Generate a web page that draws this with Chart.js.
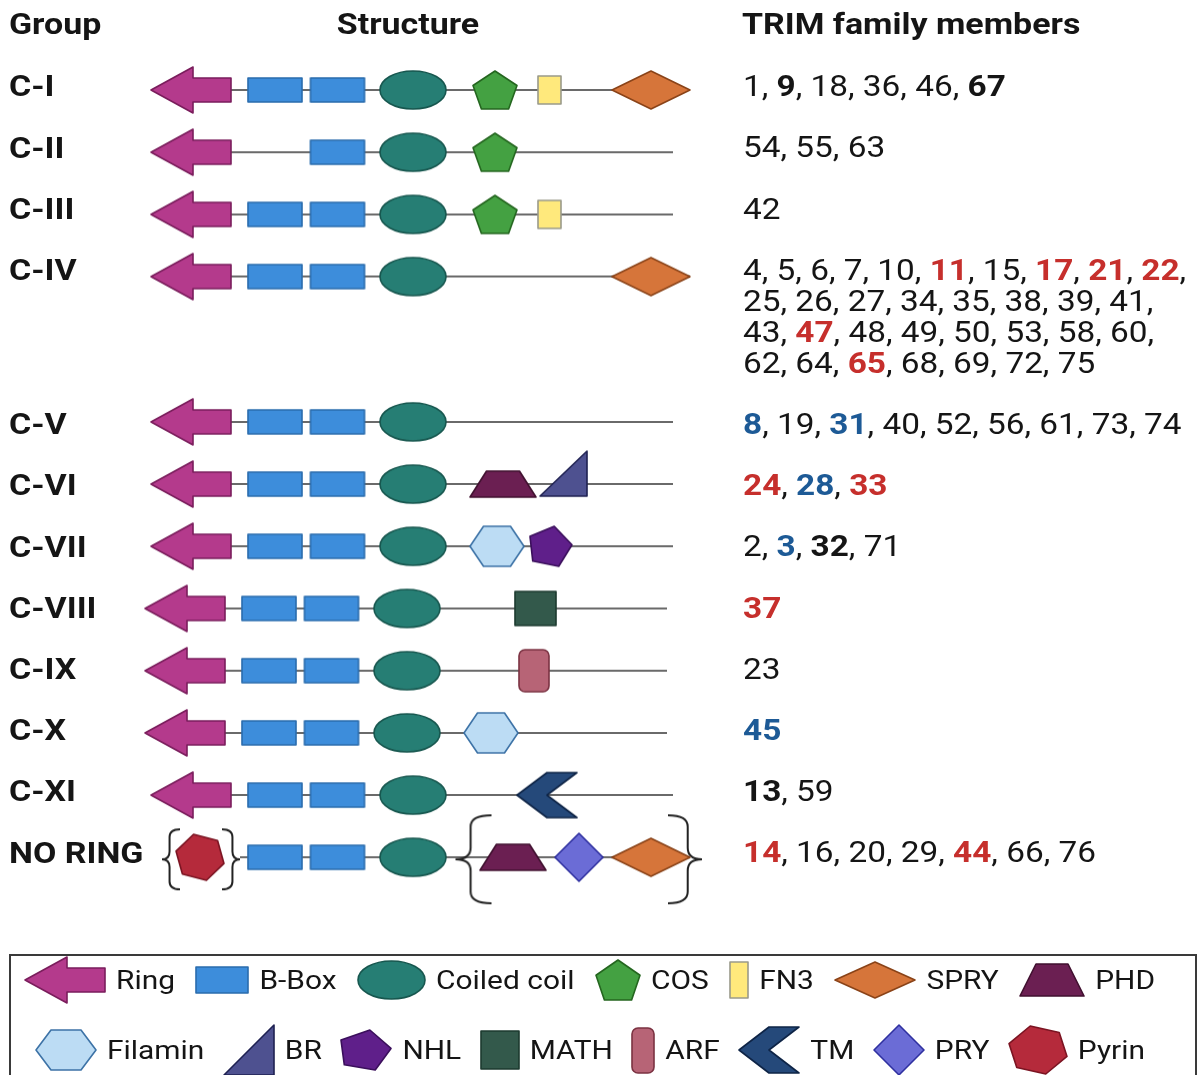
<!DOCTYPE html>
<html>
<head>
<meta charset="utf-8">
<script src="https://cdn.jsdelivr.net/npm/chart.js@4.4.1/dist/chart.umd.min.js"></script>
<style>
  html, body { margin: 0; padding: 0; background: #fff; }
  canvas { display: block; }
</style>
</head>
<body>
<canvas id="trim" width="1199" height="1075"></canvas>
<script>
// ---- data ----
const groups = ['C-I', 'C-II', 'C-III', 'C-IV', 'C-V', 'C-VI', 'C-VII', 'C-VIII', 'C-IX', 'C-X', 'C-XI', 'NO RING'];
const structures = [
  ['Ring', 'B-Box', 'B-Box', 'Coiled coil', 'COS', 'FN3', 'SPRY'],
  ['Ring', 'B-Box', 'Coiled coil', 'COS'],
  ['Ring', 'B-Box', 'B-Box', 'Coiled coil', 'COS', 'FN3'],
  ['Ring', 'B-Box', 'B-Box', 'Coiled coil', 'SPRY'],
  ['Ring', 'B-Box', 'B-Box', 'Coiled coil'],
  ['Ring', 'B-Box', 'B-Box', 'Coiled coil', 'PHD', 'BR'],
  ['Ring', 'B-Box', 'B-Box', 'Coiled coil', 'Filamin', 'NHL'],
  ['Ring', 'B-Box', 'B-Box', 'Coiled coil', 'MATH'],
  ['Ring', 'B-Box', 'B-Box', 'Coiled coil', 'ARF'],
  ['Ring', 'B-Box', 'B-Box', 'Coiled coil', 'Filamin'],
  ['Ring', 'B-Box', 'B-Box', 'Coiled coil', 'TM'],
  ['Pyrin', 'B-Box', 'B-Box', 'Coiled coil', 'PHD', 'PRY', 'SPRY']
];
const members = [
  [1, 9, 18, 36, 46, 67],
  [54, 55, 63],
  [42],
  [4, 5, 6, 7, 10, 11, 15, 17, 21, 22, 25, 26, 27, 34, 35, 38, 39, 41, 43, 47, 48, 49, 50, 53, 58, 60, 62, 64, 65, 68, 69, 72, 75],
  [8, 19, 31, 40, 52, 56, 61, 73, 74],
  [24, 28, 33],
  [2, 3, 32, 71],
  [37],
  [23],
  [45],
  [13, 59],
  [14, 16, 20, 29, 44, 66, 76]
];
const redMembers = [11, 17, 21, 22, 47, 65, 24, 33, 37, 14, 44];
const blueMembers = [8, 31, 28, 3, 45];
const boldMembers = [9, 67, 32, 13];
const legendRows = [
  ['Ring', 'B-Box', 'Coiled coil', 'COS', 'FN3', 'SPRY', 'PHD'],
  ['Filamin', 'BR', 'NHL', 'MATH', 'ARF', 'TM', 'PRY', 'Pyrin']
];

// ---- look ----
const SX = 1.15;
const FONT = 'Roboto, "Liberation Sans", Arial, sans-serif';
const RED = '#c62f2c', BLUE = '#1d5a96', INK = '#151515';

const domainStyle = {
  'Ring':        { fill: '#b43a8c', stroke: '#7a1d5c' },
  'B-Box':       { fill: '#3d8ddb', stroke: '#2a6cad' },
  'Coiled coil': { fill: '#267e74', stroke: '#17574f' },
  'COS':         { fill: '#44a142', stroke: '#24661f' },
  'FN3':         { fill: '#ffe97c', stroke: '#9a9a8a' },
  'SPRY':        { fill: '#d6753a', stroke: '#8a4318' },
  'PHD':         { fill: '#6b1f52', stroke: '#40102f' },
  'BR':          { fill: '#4e5190', stroke: '#1f2152' },
  'Filamin':     { fill: '#bcdcf4', stroke: '#3c72a6' },
  'NHL':         { fill: '#5f1f8a', stroke: '#3b0f5c' },
  'MATH':        { fill: '#33594b', stroke: '#1c3a2f' },
  'ARF':         { fill: '#b76476', stroke: '#7b3242' },
  'TM':          { fill: '#25497a', stroke: '#0e2446' },
  'PRY':         { fill: '#6b6cd6', stroke: '#2f30a0' },
  'Pyrin':       { fill: '#b52a3b', stroke: '#7b1422' }
};
// [w, h, dy]
const domainSize = {
  'Ring': [80, 46, 0], 'B-Box': [54, 24, 0], 'Coiled coil': [66, 38, 0], 'COS': [44, 38, 0],
  'FN3': [23, 28, 0], 'SPRY': [78, 38, 0], 'PHD': [66, 26, 0], 'BR': [47, 45, -10.5],
  'Filamin': [54, 40, 0], 'NHL': [42, 40, 0], 'MATH': [41, 34, 0], 'ARF': [30, 42, 0],
  'TM': [60, 45, 0], 'PRY': [48, 48, 0], 'Pyrin': [48, 46, 0]
};
const legendSize = {
  'Ring': [80, 46], 'B-Box': [52, 26], 'Coiled coil': [67, 38], 'COS': [44, 40], 'FN3': [18, 36],
  'SPRY': [80, 36], 'PHD': [64, 32], 'Filamin': [60, 40], 'BR': [50, 50], 'NHL': [50, 40],
  'MATH': [38, 38], 'ARF': [22, 45], 'TM': [60, 46], 'PRY': [50, 50], 'Pyrin': [58, 48]
};
const domainX = {
  'Ring': 191, 'Pyrin': 200, 'Coiled coil': 413, 'COS': 495, 'FN3': 549.5, 'SPRY': 651,
  'PHD': 503, 'BR': 563.5, 'Filamin': 497, 'NHL': 551, 'MATH': 541.5, 'ARF': 540, 'TM': 547, 'PRY': 579
};
const bboxX = [275, 337.5];
const rowShift = { 7: -6, 8: -6, 9: -6 };
const xOverride = { 11: { 'PHD': 513 } };
const braces = [
  { row: 11, side: 'L', x: 171, w: 18, h: 60 },
  { row: 11, side: 'R', x: 231, w: 18, h: 60 },
  { row: 11, side: 'L', x: 473.5, w: 36, h: 88 },
  { row: 11, side: 'R', x: 685, w: 34, h: 88 }
];
const TEXT_DY = 3;

// ---- shapes ----
function regular(n, startDeg) {
  const a = [];
  for (let k = 0; k < n; k++) {
    const t = (startDeg + k * 360 / n) * Math.PI / 180;
    a.push([Math.cos(t), Math.sin(t)]);
  }
  return a;
}
function polyFit(pts, w, h) {
  const xs = pts.map(p => p[0]), ys = pts.map(p => p[1]);
  const x0 = Math.min(...xs), x1 = Math.max(...xs), y0 = Math.min(...ys), y1 = Math.max(...ys);
  return pts.map(p => [(p[0] - x0) / (x1 - x0) * w - w / 2, (p[1] - y0) / (y1 - y0) * h - h / 2]);
}
function shapePath(g, name, w, h) {
  const hw = w / 2, hh = h / 2;
  let pts;
  g.beginPath();
  switch (name) {
    case 'Ring': {
      const hx = -hw + w * 0.525, bh = h * 0.26;
      pts = [[-hw, 0], [hx, -hh], [hx, -bh], [hw, -bh], [hw, bh], [hx, bh], [hx, hh]];
      break;
    }
    case 'B-Box': case 'FN3': case 'MATH':
      g.rect(-hw, -hh, w, h); return;
    case 'ARF':
      g.roundRect(-hw, -hh, w, h, 6); return;
    case 'Coiled coil':
      g.ellipse(0, 0, hw, hh, 0, 0, Math.PI * 2); return;
    case 'COS': pts = polyFit(regular(5, -90), w, h); break;
    case 'NHL': pts = polyFit(regular(5, -78), w, h); break;
    case 'SPRY': case 'PRY': pts = [[-hw, 0], [0, -hh], [hw, 0], [0, hh]]; break;
    case 'PHD': { const t = w * 0.25; pts = [[-hw, hh], [-hw + t, -hh], [hw - t, -hh], [hw, hh]]; break; }
    case 'BR': pts = [[-hw, hh], [hw, -hh], [hw, hh]]; break;
    case 'Filamin': pts = [[-hw, 0], [-hw / 2, -hh], [hw / 2, -hh], [hw, 0], [hw / 2, hh], [-hw / 2, hh]]; break;
    case 'Pyrin': pts = polyFit(regular(6, 15), w, h); break;
    case 'TM': pts = [[-hw, 0], [0, -hh], [hw, -hh], [0, 0], [hw, hh], [0, hh]]; break;
  }
  g.moveTo(pts[0][0], pts[0][1]);
  for (let i = 1; i < pts.length; i++) g.lineTo(pts[i][0], pts[i][1]);
  g.closePath();
}
function makeIcon(name, w, h, dy) {
  dy = dy || 0;
  const pad = 3;
  const c = document.createElement('canvas');
  c.width = Math.ceil(w + pad * 2);
  c.height = Math.ceil(h + Math.abs(dy) * 2 + pad * 2);
  const g = c.getContext('2d');
  g.translate(c.width / 2, c.height / 2 + dy);
  shapePath(g, name, w, h);
  g.fillStyle = domainStyle[name].fill;
  g.fill();
  g.lineWidth = 1.6;
  g.lineJoin = 'round';
  g.strokeStyle = domainStyle[name].stroke;
  g.stroke();
  return c;
}
function makeBrace(side, w, h) {
  const c = document.createElement('canvas');
  c.width = Math.ceil(w + 6);
  c.height = Math.ceil(h + 6);
  const g = c.getContext('2d');
  g.translate(c.width / 2, c.height / 2);
  if (side === 'R') g.scale(-1, 1);
  const hw = w / 2, hh = h / 2;
  const xm = -hw + w * 0.42, r = Math.min(w * 0.5, h * 0.13);
  g.beginPath();
  g.moveTo(hw, -hh);
  g.quadraticCurveTo(xm, -hh, xm, -hh + r);
  g.lineTo(xm, -r);
  g.quadraticCurveTo(xm, 0, -hw, 0);
  g.quadraticCurveTo(xm, 0, xm, r);
  g.lineTo(xm, hh - r);
  g.quadraticCurveTo(xm, hh, hw, hh);
  g.lineWidth = 2;
  g.strokeStyle = '#222';
  g.stroke();
  return c;
}

// ---- member text wrapping ----
const measure = document.createElement('canvas').getContext('2d');
function memberStyle(n) {
  if (redMembers.includes(n)) return { color: RED, bold: true };
  if (blueMembers.includes(n)) return { color: BLUE, bold: true };
  if (boldMembers.includes(n)) return { color: INK, bold: true };
  return { color: INK, bold: false };
}
const MEMBER_PX = 29;
function memberFont(bold) { return (bold ? 'bold ' : '') + MEMBER_PX + 'px ' + FONT; }
function textW(str, font) { measure.font = font; return measure.measureText(str).width * SX; }

const memberLines = members.map(list => {
  const lines = [[]];
  let used = 0;
  const spaceW = textW(' ', memberFont(false));
  list.forEach((n, k) => {
    const st = memberStyle(n);
    const comma = k < list.length - 1 ? ',' : '';
    const w = textW(String(n), memberFont(st.bold)) + textW(comma, memberFont(false));
    const need = (lines[lines.length - 1].length ? spaceW : 0) + w;
    if (used + need > 452 && lines[lines.length - 1].length) {
      lines.push([]);
      used = w;
    } else {
      used += need;
    }
    lines[lines.length - 1].push({ n, comma, st });
  });
  return lines;
});

// row positions follow the number of member lines
const structY = [], textY = [];
let extra = 0;
groups.forEach((g, i) => {
  structY.push(90 + 62.2 * i + 27.7 * extra);
  textY.push(86 + 61.2 * i + 31 * extra);
  extra += memberLines[i].length - 1;
});

// ---- datasets ----
const domainNames = Object.keys(domainStyle);
const points = {};
domainNames.forEach(d => { points[d] = []; });
const backbone = [];
structures.forEach((doms, i) => {
  const shift = rowShift[i] || 0;
  const y = structY[i];
  const nBox = doms.filter(d => d === 'B-Box').length;
  let boxSeen = 0;
  doms.forEach(d => {
    let x;
    if (d === 'B-Box') { x = bboxX[2 - nBox + boxSeen]; boxSeen++; }
    else x = (xOverride[i] && xOverride[i][d]) || domainX[d];
    points[d].push({ x: x + shift, y });
  });
  const start = doms[0] === 'Ring' ? domainX.Ring + 40 : 240;
  const end = doms[doms.length - 1] === 'SPRY' ? 690 : 673;
  backbone.push({ x: start + shift, y }, { x: end + shift, y }, { x: end + shift, y: null });
});

const icons = {};
domainNames.forEach(d => { const s = domainSize[d]; icons[d] = makeIcon(d, s[0], s[1], s[2]); });
const legendIcons = {};
domainNames.forEach(d => { const s = legendSize[d]; legendIcons[d] = makeIcon(d, s[0], s[1], 0); });
const braceIcons = braces.map(b => makeBrace(b.side, b.w, b.h));

const datasets = domainNames.map(d => ({
  label: d,
  data: points[d],
  pointStyle: icons[d],
  pointRadius: 4,
  order: 1
}));
datasets.push({
  label: 'braces',
  data: braces.map(b => ({ x: b.x, y: structY[b.row] + 2 })),
  pointStyle: braceIcons,
  pointRadius: 4,
  order: 1
});
datasets.push({
  type: 'line',
  label: 'backbone',
  data: backbone,
  showLine: true,
  spanGaps: false,
  borderColor: '#6a6a6a',
  borderWidth: 2,
  pointRadius: 0,
  order: 10
});

// ---- text + legend ----
function stretchText(ctx, text, x, y, font, color, align) {
  ctx.save();
  ctx.font = font;
  ctx.fillStyle = color;
  ctx.textBaseline = 'middle';
  const w = ctx.measureText(text).width * SX;
  const x0 = align === 'center' ? x - w / 2 : x;
  ctx.translate(x0, y);
  ctx.scale(SX, 1);
  ctx.fillText(text, 0, 0);
  ctx.restore();
  return w;
}

const textPlugin = {
  id: 'trimText',
  afterDatasetsDraw(chart) {
    const ctx = chart.ctx;
    const xs = chart.scales.x, ys = chart.scales.y;
    const px = v => xs.getPixelForValue(v), py = v => ys.getPixelForValue(v + TEXT_DY);
    const headFont = 'bold 29.5px ' + FONT;

    stretchText(ctx, 'Group', px(9), py(24), headFont, INK);
    stretchText(ctx, 'Structure', px(408), py(24), headFont, INK, 'center');
    stretchText(ctx, 'TRIM family members', px(742), py(24), headFont, INK);

    groups.forEach((g, i) => {
      stretchText(ctx, g, px(9), py(textY[i]), headFont, INK);
      memberLines[i].forEach((line, li) => {
        let x = px(743);
        const y = py(textY[i] + li * 31);
        line.forEach((tok, k) => {
          if (k > 0) x += stretchText(ctx, ' ', x, y, memberFont(false), INK);
          x += stretchText(ctx, String(tok.n), x, y, memberFont(tok.st.bold), tok.st.color);
          if (tok.comma) x += stretchText(ctx, tok.comma, x, y, memberFont(false), INK);
        });
      });
    });

    // legend box
    ctx.save();
    ctx.strokeStyle = '#3a3a3a';
    ctx.lineWidth = 2;
    ctx.strokeRect(px(10), py(955 - TEXT_DY), px(1196) - px(10), 130);
    ctx.restore();

    const legFont = '26px ' + FONT;
    const rowSpec = [{ y: 980, from: 25, to: 1155 }, { y: 1050, from: 36, to: 1145 }];
    legendRows.forEach((row, r) => {
      const spec = rowSpec[r];
      const gapIn = 11;
      let total = 0;
      row.forEach(d => { total += legendSize[d][0] + gapIn + textW(d, legFont); });
      const gap = (spec.to - spec.from - total) / (row.length - 1);
      let x = px(spec.from);
      const iconY = ys.getPixelForValue(spec.y);
      const y = py(spec.y - 1);
      row.forEach(d => {
        const ic = legendIcons[d];
        const w = legendSize[d][0];
        ctx.drawImage(ic, Math.round(x + w / 2 - ic.width / 2), Math.round(iconY - ic.height / 2));
        x += w + gapIn;
        x += stretchText(ctx, d, x, y, legFont, INK);
        x += gap;
      });
    });
  }
};

new Chart(document.getElementById('trim').getContext('2d'), {
  type: 'scatter',
  data: { datasets },
  options: {
    responsive: false,
    animation: false,
    events: [],
    layout: { padding: 0, autoPadding: false },
    plugins: { legend: { display: false }, tooltip: { enabled: false } },
    scales: {
      x: { type: 'linear', min: 0, max: 1199, display: false },
      y: { type: 'linear', min: 0, max: 1075, reverse: true, display: false }
    }
  },
  plugins: [textPlugin]
});
</script>
</body>
</html>
